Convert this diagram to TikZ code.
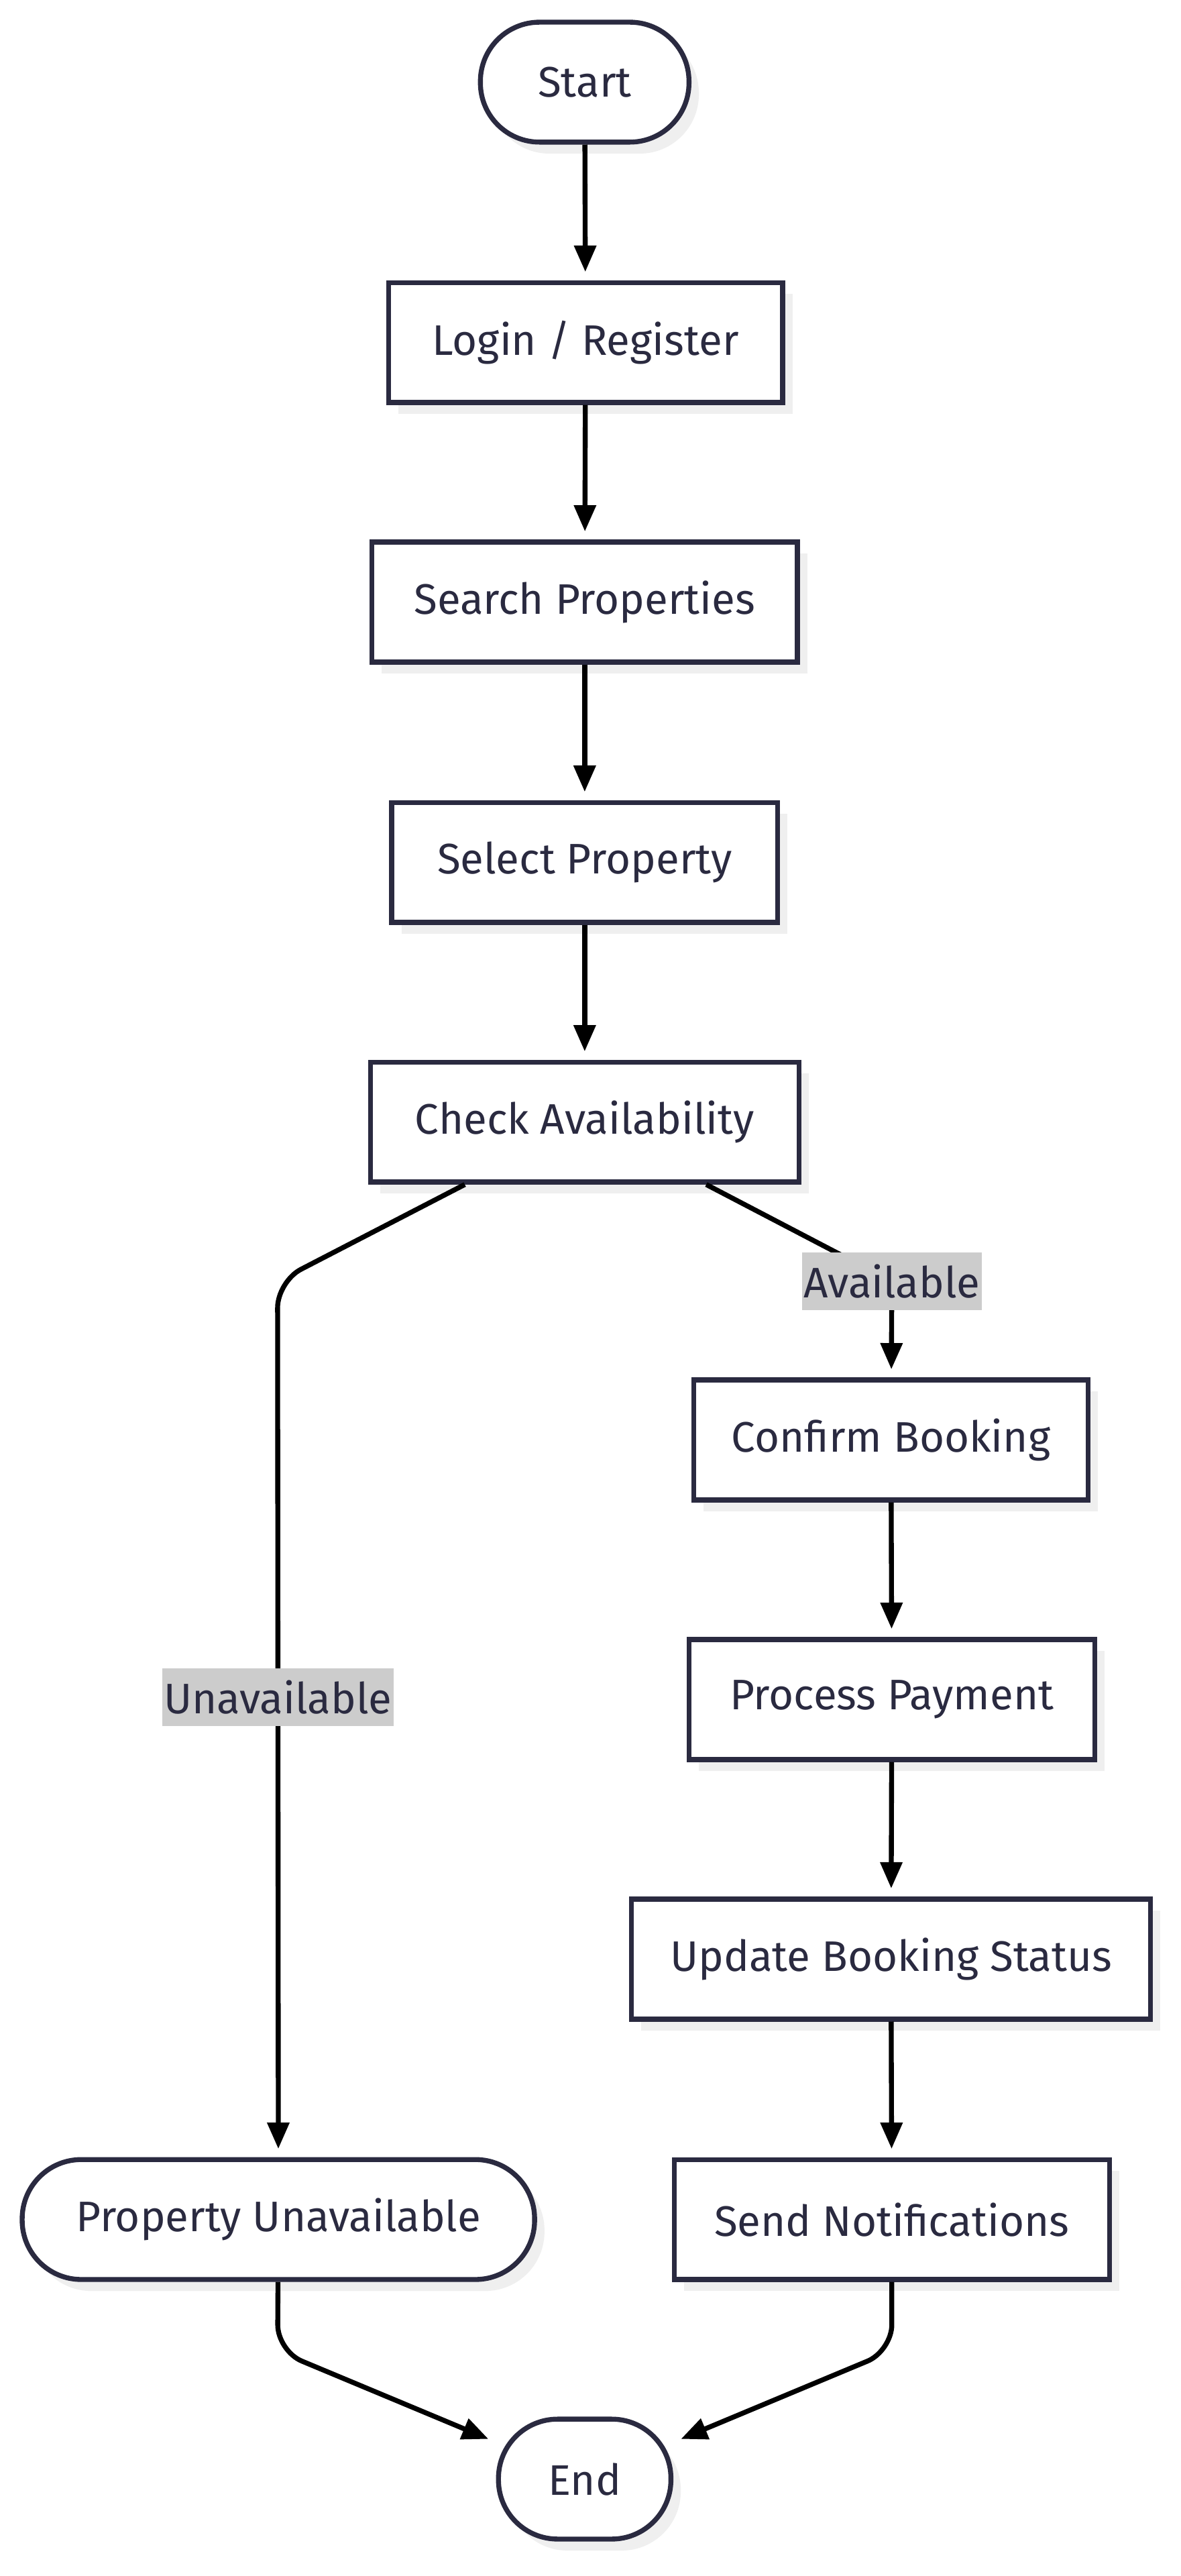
\documentclass[tikz,border=0pt]{standalone}
\usepackage{fontspec}
\setmainfont{Fira Sans}
\usetikzlibrary{arrows.meta,shadows}
\definecolor{ink}{HTML}{2A2A40}
\definecolor{shade}{HTML}{EFEFEF}
\definecolor{tagbg}{HTML}{CCCCCC}

\begin{document}
\begin{tikzpicture}[x=1pt, y=-1pt,
  stepbox/.style={rectangle, draw=ink, line width=3pt, fill=white, text=ink, minimum height=73pt, inner sep=0pt, font=\fontsize{26}{29}\selectfont, drop shadow={shadow xshift=6pt, shadow yshift=-7pt, fill=shade, opacity=1}},
  term/.style={stepbox, rounded corners=36pt},
  lbl/.style={sharp corners, fill=tagbg, text=ink, inner xsep=1pt, inner ysep=0pt, minimum height=35pt, font=\fontsize{26}{29}\selectfont},
  flow/.style={-{Triangle[length=16pt, width=13pt]}, line width=3pt, black, shorten >=5pt}
]
  \useasboundingbox[fill=white] (0,0) rectangle (719,1568);
  % Main line (centre column)
  \node[term, minimum width=127pt]    (start)  at (356, 50)  {Start};
  \node[stepbox, minimum width=240pt] (login)  at (356.5, 208.5) {Login / Register};
  \node[stepbox, minimum width=259pt] (search) at (356, 366.5) {Search Properties};
  \node[stepbox, minimum width=235pt] (select) at (356, 525) {Select Property};
  \node[stepbox, minimum width=261pt] (check)  at (356, 683) {Check Availability};
  % Booking branch (right)
  \node[stepbox, minimum width=240pt] (confirm) at (542.5, 876.5) {Confirm Booking};
  \node[stepbox, minimum width=247pt] (payment) at (543, 1034.5) {Process Payment};
  \node[stepbox, minimum width=316pt] (status)  at (542.5, 1192.5) {Update Booking Status};
  \node[stepbox, minimum width=265pt] (notify)  at (543, 1351) {Send Notifications};
  % Unavailable branch (left) and end
  \node[term, minimum width=312pt] (unavail) at (169.5, 1351) {Property Unavailable};
  \node[term, minimum width=105pt] (end)     at (356, 1509) {End};
  % Bends
  \coordinate (bendL) at (169, 780);
  \coordinate (bendR) at (543, 780);
  \coordinate (joinL) at (169, 1431);
  \coordinate (joinR) at (543, 1431);
  % Straight steps
  \draw[flow] (start)  -- (login);
  \draw[flow] (login)  -- (search);
  \draw[flow] (search) -- (select);
  \draw[flow] (select) -- (check);
  \draw[flow] (confirm) -- (payment);
  \draw[flow] (payment) -- (status);
  \draw[flow] (status)  -- (notify);
  % Decision
  \draw[flow, rounded corners=16pt] ([xshift=-73pt]check.south) -- (bendL) -- node[lbl, pos=0.475]{Unavailable} (unavail);
  \draw[flow, rounded corners=16pt] ([xshift=74pt]check.south) -- (bendR) -- (confirm);
  \node[lbl] (availtag) at (bendR) {Available};
  % Into end
  \draw[flow, rounded corners=16pt] (unavail) -- (joinL) -- (end);
  \draw[flow, rounded corners=16pt] (notify)  -- (joinR) -- (end);
\end{tikzpicture}
\end{document}
